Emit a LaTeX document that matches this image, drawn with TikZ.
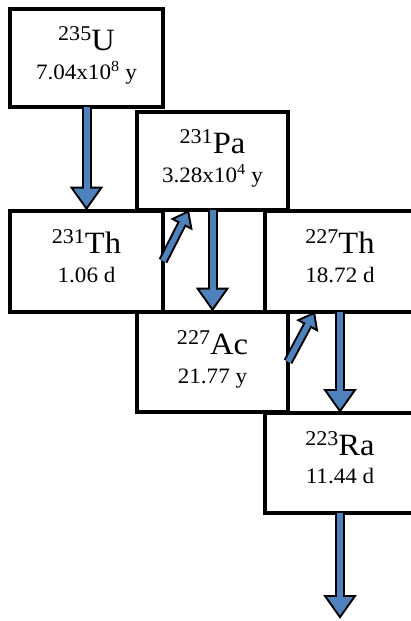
\documentclass[tikz,border=0pt]{standalone}
\usepackage{fontspec}
\newfontfamily\boxfont[FakeStretch=1.05]{Liberation Serif}
\usetikzlibrary{arrows.meta}
\definecolor{arrblue}{HTML}{4F81BD}
\newcommand\nucl[2]{\raisebox{10pt}{\fontsize{21}{21}\selectfont #1}\fontsize{31}{31}\selectfont #2}
\tikzset{
  box/.style={draw=black, line width=4pt, rectangle, inner sep=0pt, outer sep=0pt},
  tone/.style={anchor=base, inner sep=0pt, font=\boxfont},
  ttwo/.style={anchor=base, inner sep=0pt, font=\boxfont\fontsize{22}{22}\selectfont},
  bigarr/.style={draw=arrblue, line width=6pt, -{Triangle[length=18.4pt,width=24.5pt]}, shorten >=3.6pt,
    preaction={draw=black, line width=10pt, -{Triangle[length=24pt,width=32pt]}, shorten >=0pt}},
  smallarr/.style={draw=arrblue, line width=5.5pt, -{Triangle[length=11pt,width=16pt]}, shorten >=3.4pt,
    preaction={draw=black, line width=9.5pt, -{Triangle[length=16.5pt,width=24pt]}, shorten >=0pt}}
}
\begin{document}
\begin{tikzpicture}[x=1pt,y=-1pt]
\useasboundingbox (0,0) rectangle (411,621);
% boxes
\node[box, minimum width=153pt, minimum height=98pt] (U) at (86.5,58) {};
\node[box, minimum width=151pt, minimum height=98pt] (Pa) at (212.5,161) {};
\node[box, minimum width=153pt, minimum height=101pt] (Th231) at (86.5,261) {};
\node[box, minimum width=150pt, minimum height=101pt] (Th227) at (340,261) {};
\node[box, minimum width=151pt, minimum height=100.5pt] (Ac) at (212.5,361.75) {};
\node[box, minimum width=150pt, minimum height=100pt] (Ra) at (340,463) {};
% texts
\node[tone] (Ut1) at ([yshift=-41pt]U.north) {\nucl{235}{U}};
\node[ttwo] (Ut2) at ([yshift=-70pt]U.north) {7.04x10\textsuperscript{8}\ y};
\node[tone] (Pat1) at ([yshift=-41pt]Pa.north) {\nucl{231}{Pa}};
\node[ttwo] (Pat2) at ([yshift=-70pt]Pa.north) {3.28x10\textsuperscript{4}\ y};
\node[tone] (Tha1) at ([yshift=-42.5pt]Th231.north) {\nucl{231}{Th}};
\node[ttwo] (Tha2) at ([yshift=-72pt]Th231.north) {1.06 d};
\node[tone] (Thb1) at ([yshift=-42.5pt]Th227.north) {\nucl{227}{Th}};
\node[ttwo] (Thb2) at ([yshift=-72pt]Th227.north) {18.72 d};
\node[tone] (Act1) at ([yshift=-43pt]Ac.north) {\nucl{227}{Ac}};
\node[ttwo] (Act2) at ([yshift=-72pt]Ac.north) {21.77 y};
\node[tone] (Rat1) at ([yshift=-42pt]Ra.north) {\nucl{223}{Ra}};
\node[ttwo] (Rat2) at ([yshift=-70.5pt]Ra.north) {11.44 d};
% arrows
\coordinate (end) at (340,619);
\draw[bigarr] (U.south) -- (Th231.north);
\draw[smallarr] (Th231.east) -- ([xshift=52pt]Pa.south west);
\draw[bigarr] (Pa.south) -- (Ac.north);
\draw[smallarr] (Ac.east) -- ([xshift=50pt]Th227.south west);
\draw[bigarr] (Th227.south) -- (Ra.north);
\draw[bigarr] (Ra.south) -- (end);
\end{tikzpicture}
\end{document}
